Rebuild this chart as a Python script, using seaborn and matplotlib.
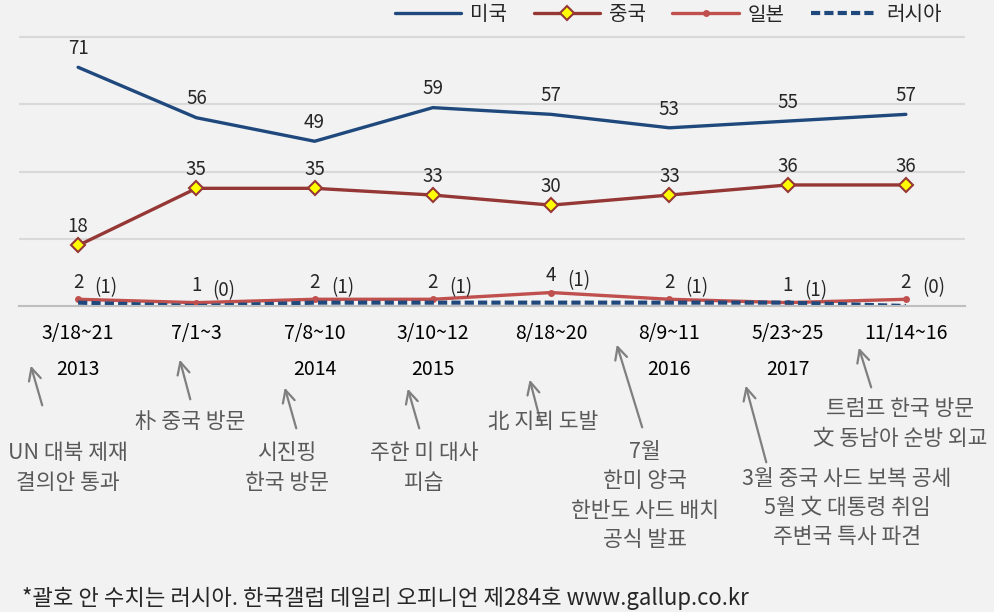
import numpy as np
import pandas as pd
import matplotlib
matplotlib.use("Agg")
import matplotlib.pyplot as plt
import seaborn as sns

# survey dates (x labels) and years
dates = ["3/18~21", "7/1~3", "7/8~10", "3/10~12", "8/18~20", "8/9~11", "5/23~25", "11/14~16"]
years = ["2013", "", "2014", "2015", "", "2016", "2017", ""]

# values per country
usa = [71, 56, 49, 59, 57, 53, 55, 57]
china = [18, 35, 35, 33, 30, 33, 36, 36]
japan = [2, 1, 2, 2, 4, 2, 1, 2]
russia = [1, 0, 1, 1, 1, 1, 1, 0]

events = [
    "UN 대북 제재\n결의안 통과",
    "朴 중국 방문",
    "시진핑\n한국 방문",
    "주한 미 대사\n피습",
    "北 지뢰 도발",
    "7월\n한미 양국\n한반도 사드 배치\n공식 발표",
    "3월 중국 사드 보복 공세\n5월 文 대통령 취임\n주변국 특사 파견",
    "트럼프 한국 방문\n文 동남아 순방 외교",
]

footnote = "*괄호 안 수치는 러시아. 한국갤럽 데일리 오피니언 제284호 www.gallup.co.kr"

sns.set_theme(style="white")
plt.rcParams["font.family"] = ["Noto Sans CJK KR", "DejaVu Sans"]

BG = "#f2f2f2"
C_US = "#1f497d"
C_CN = "#953735"
C_JP = "#c0504d"
GRAY = "#7f7f7f"
TXT = "#595959"

W, H = 995, 612
fig = plt.figure(figsize=(W / 100, H / 100), dpi=100, facecolor=BG)
ax = fig.add_axes([19 / W, 1 - 306 / H, (965 - 19) / W, (306 - 30.3) / H])
ax.set_facecolor(BG)

x = np.arange(len(dates))
lw = 2.4
sns.lineplot(x=x, y=usa, ax=ax, color=C_US, lw=lw, label="미국", sort=False)
sns.lineplot(x=x, y=china, ax=ax, color=C_CN, lw=lw, marker="D", markersize=7,
             markerfacecolor="#ffff00", markeredgecolor=C_CN, markeredgewidth=1.5,
             label="중국", sort=False)
sns.lineplot(x=x, y=japan, ax=ax, color=C_JP, lw=lw, marker="o", markersize=5,
             markeredgewidth=0, label="일본", sort=False)
sns.lineplot(x=x, y=russia, ax=ax, color=C_US, lw=3.0, label="러시아", sort=False)
ax.get_lines()[3].set_dashes((2.2, 1.0))

ax.set_xlim(-0.5, len(dates) - 0.5)
ax.set_ylim(0, 82)
ax.set_yticks([20, 40, 60, 80])
ax.set_yticklabels([])
ax.tick_params(axis="y", length=0)
ax.grid(axis="y", color="#d9d9d9", lw=1.5)
ax.set_axisbelow(True)
for s in ["left", "right", "top"]:
    ax.spines[s].set_visible(False)
ax.spines["bottom"].set_color("#bfbfbf")
ax.spines["bottom"].set_linewidth(1.5)

ax.set_xticks(x)
ax.set_xticklabels([f"{d}\n{y}" for d, y in zip(dates, years)], fontsize=14,
                   color="black", linespacing=1.93, va="top")
ax.set_xticks(np.arange(-0.5, len(dates), 1), minor=True)
ax.tick_params(axis="x", which="major", length=0, pad=12)
ax.tick_params(axis="x", which="minor", length=5, width=1.5, color="#bfbfbf")

# data labels
for i in x:
    ax.annotate(str(usa[i]), (i, usa[i]), xytext=(0, 13.5), textcoords="offset points",
                ha="center", va="center", fontsize=13.5)
    ax.annotate(str(china[i]), (i, china[i]), xytext=(0, 13.5), textcoords="offset points",
                ha="center", va="center", fontsize=13.5)
    ax.annotate(str(japan[i]), (i, japan[i]), xytext=(0, 12), textcoords="offset points",
                ha="center", va="center", fontsize=13.5)
    ax.annotate(f"({russia[i]})", (i, japan[i]), xytext=(20, 8.5), textcoords="offset points",
                ha="center", va="center", fontsize=13.5)

ax.legend(loc="center right", bbox_to_anchor=(0.965, 1 - 15 / H), bbox_transform=fig.transFigure,
          ncol=4, frameon=False, fontsize=14.5, handlelength=3.3, handletextpad=0.45,
          columnspacing=1.3)


def fp(px, py):
    return (px, H - py)


# event arrows (tail, head) in pixels and text centres
arrows = [((43, 408), (30, 363)), ((191, 402), (179, 357)), ((297, 431), (284, 385)),
          ((420, 431), (407, 386)), ((541, 423), (529, 377)), ((643, 430), (616, 342)),
          ((767, 465), (745, 383)), ((872, 390), (858, 345))]
text_pos = [(68, 468), (190, 422), (287, 468), (424, 468), (543, 422), (645, 496),
            (847, 508), (900, 424)]

for (tail, head), (tx, ty), ev in zip(arrows, text_pos, events):
    fig.add_artist(matplotlib.patches.FancyArrowPatch(
        fp(*tail), fp(*head), transform=None, arrowstyle="->", mutation_scale=22,
        color=GRAY, lw=1.6))
    fig.text(tx / W, 1 - ty / H, ev, ha="center", va="center", fontsize=15.5,
             color=TXT, linespacing=1.42)

fig.text(22 / W, 1 - 598 / H, footnote, ha="left", va="center", fontsize=16, color="#262626")

fig.savefig("out.png", dpi=100, facecolor=BG)
